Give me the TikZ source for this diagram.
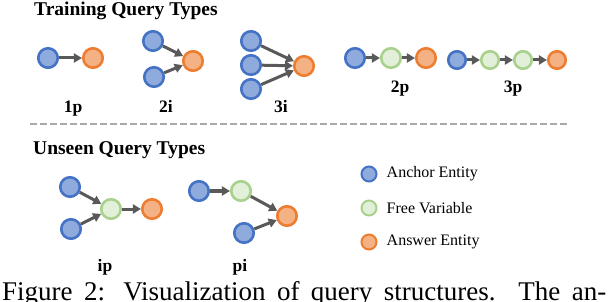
\documentclass[tikz,border=0pt]{standalone}
\usepackage{fontspec}
\setmainfont{Liberation Serif}
\usetikzlibrary{arrows.meta,positioning}
\definecolor{canc}{RGB}{143,170,220}
\definecolor{cancd}{RGB}{68,114,196}
\definecolor{cfree}{RGB}{226,240,217}
\definecolor{cfreed}{RGB}{169,209,142}
\definecolor{cans}{RGB}{244,177,131}
\definecolor{cansd}{RGB}{237,125,49}
\definecolor{carr}{RGB}{89,89,89}
\definecolor{csep}{RGB}{170,170,170}

\begin{document}
\begin{tikzpicture}[x=1pt,y=-1pt,>={Triangle[length=8pt,width=9pt]},
  ent/.style={circle,line width=2.6pt,minimum size=19.5pt,inner sep=0pt,fill=#1,draw=#1d},
  anc/.style={ent=canc}, fvar/.style={ent=cfree}, ans/.style={ent=cans},
  rel/.style={->,line width=3pt,carr},
  ttl/.style={font=\fontsize{19.5}{20}\selectfont\bfseries,anchor=base west,inner sep=0pt},
  lbl/.style={font=\fontsize{17.5}{18}\selectfont\bfseries,anchor=base,inner sep=0pt},
  leg/.style={font=\fontsize{16}{17}\selectfont,inner sep=1pt}]
\useasboundingbox (0,0) rectangle (608,302);

% ===== training queries =====
\node[ttl] (train) at (34,16) {Training Query Types};
% 1p
\node[anc] (a1p) at (48,58) {};
\node[ans] (t1p) at (93,58) {};
\draw[rel] (a1p) -- (t1p);
\node[lbl] (l1p) at (73,112.5) {1p};
% 2i
\node[anc] (a2i1) at (153,41) {};
\node[anc] (a2i2) at (154,77) {};
\node[ans] (t2i) at (193,61) {};
\foreach \i in {1,2}{\draw[rel] (a2i\i) -- (t2i);}
\node[lbl] (l2i) at (166,112.5) {2i};
% 3i
\foreach \i/\y in {1/41,2/65,3/89}{\node[anc] (a3i\i) at (251,\y) {};}
\node[ans] (t3i) at (304,66) {};
\foreach \i in {1,2,3}{\draw[rel] (a3i\i) -- (t3i);}
\node[lbl] (l3i) at (281,112.5) {3i};
% 2p
\node[anc] (a2p) at (355,58) {};
\node[fvar] (v2p) at (391,58) {};
\node[ans] (t2p) at (426,58) {};
\draw[rel] (a2p) -- (v2p);
\draw[rel] (v2p) -- (t2p);
\node[lbl] (l2p) at (400,93) {2p};
% 3p
\node[anc,minimum size=17.5pt] (a3p) at (457,60) {};
\node[fvar,minimum size=17.5pt] (v3p1) at (490,60) {};
\node[fvar,minimum size=17.5pt] (v3p2) at (523,60) {};
\node[ans,minimum size=17.5pt] (t3p) at (557,60) {};
\foreach \a/\b in {a3p/v3p1,v3p1/v3p2,v3p2/t3p}{\draw[rel] (\a) -- (\b);}
\node[lbl] (l3p) at (513,93) {3p};

% separator
\draw[csep,line width=2.6pt,dash pattern=on 7pt off 3pt] (30,124) -- (570,124);

% ===== unseen queries =====
\node[ttl] (unseen) at (33,155) {Unseen Query Types};
% ip
\node[anc] (aip1) at (70,187) {};
\node[anc] (aip2) at (71,229) {};
\node[fvar] (vip) at (111,209) {};
\node[ans] (tip) at (152,209) {};
\foreach \i in {1,2}{\draw[rel] (aip\i) -- (vip);}
\draw[rel] (vip) -- (tip);
\node[lbl] (lip) at (105,271) {ip};
% pi
\node[anc] (api1) at (199,191) {};
\node[fvar] (vpi) at (241,191) {};
\node[ans] (tpi) at (287,216) {};
\node[anc] (api2) at (244,233) {};
\draw[rel] (api1) -- (vpi);
\draw[rel] (vpi) -- (tpi);
\draw[rel] (api2) -- (tpi);
\node[lbl] (lpi) at (240,271) {pi};

% legend
\foreach \n/\s/\y/\t in {1/anc/174/Anchor Entity,2/fvar/208/Free Variable,3/ans/242/Answer Entity}{
  \node[\s,minimum size=15pt,line width=2pt] (k\n) at (369,\y) {};
  \node[leg,right=8pt of k\n] (kt\n) {\t};
}

% caption (cut by the bottom edge)
\node[anchor=base west,inner sep=0pt,font=\fontsize{27}{28}\selectfont] (cap) at (2,300)
  {\makebox[604pt][s]{Figure 2: Visualization of query structures. The an-}};
\end{tikzpicture}
\end{document}
